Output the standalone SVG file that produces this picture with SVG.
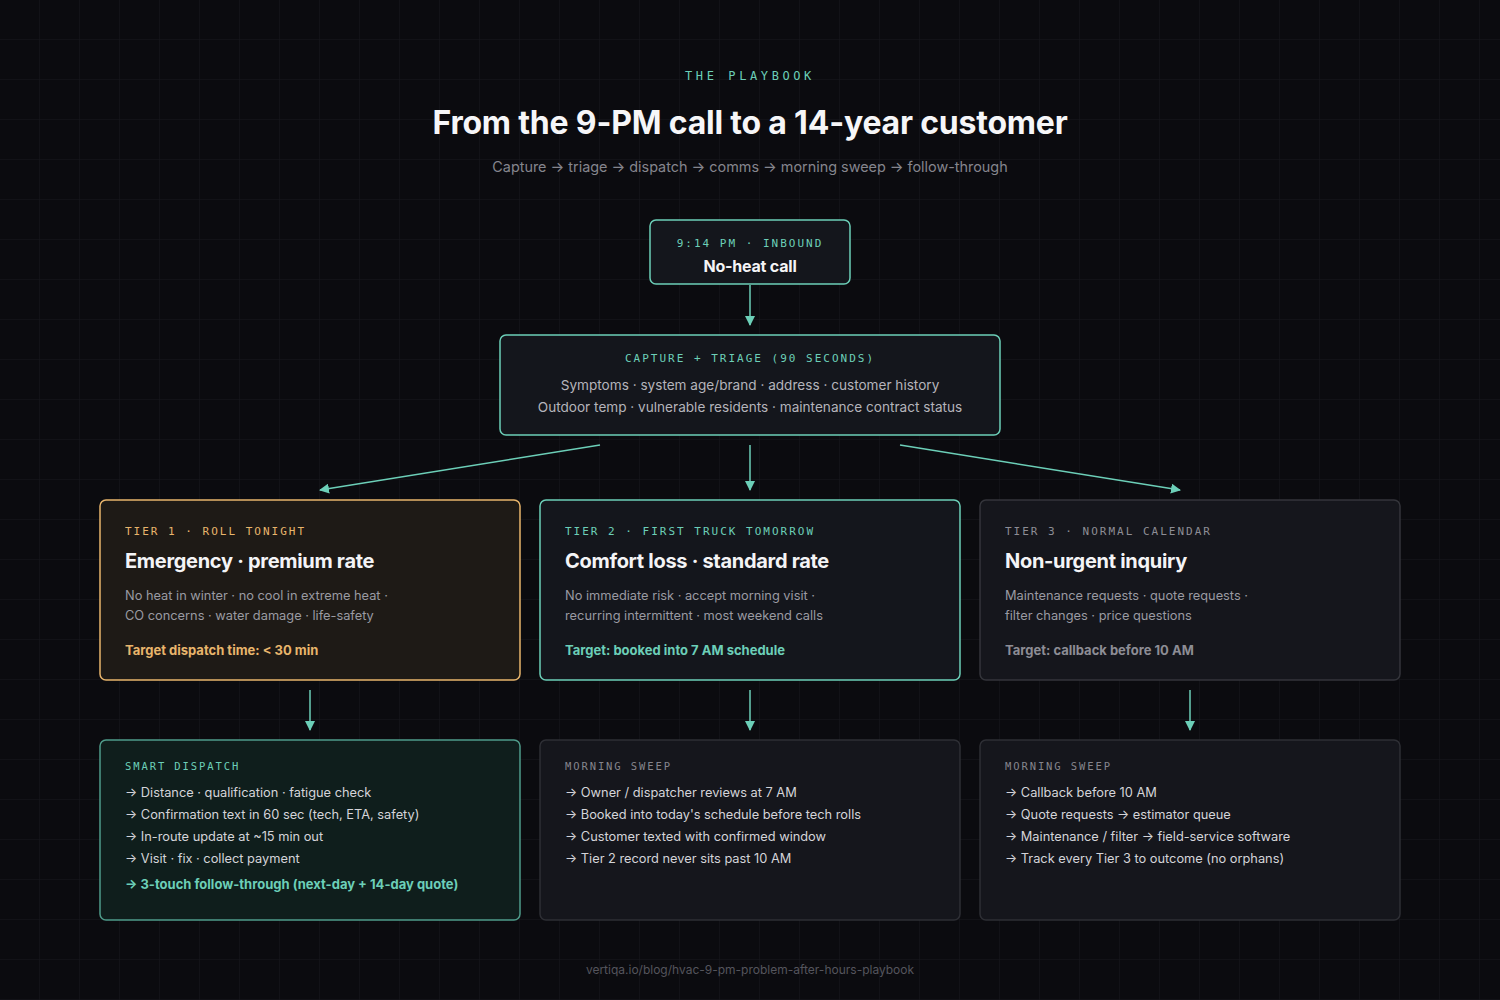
<svg xmlns="http://www.w3.org/2000/svg" width="1500" height="1000" viewBox="0 0 1500 1000">
<defs>
<pattern id="grid" width="40" height="40" patternUnits="userSpaceOnUse">
<path d="M40 0V40M0 40H40" fill="none" stroke="#17171d" stroke-width="1"/>
</pattern>
<marker id="arr" viewBox="0 0 10 10" refX="9" refY="5" markerWidth="10" markerHeight="10" markerUnits="userSpaceOnUse" orient="auto">
<path d="M0 0L10 5L0 10z" fill="#6ccfb8"/>
</marker>
<style>
.sans{font-family:Inter,"Liberation Sans",sans-serif}
.mono{font-family:"DejaVu Sans Mono","Liberation Mono",monospace;font-size:11px;letter-spacing:2px}
.lbl{font-family:"DejaVu Sans Mono","Liberation Mono",monospace;font-size:10.5px;letter-spacing:1.9px}
.teal{fill:#6ccfb8}
.orange{fill:#e8b56c}
.gray{fill:#8d8d95}
.ttl{font-family:Inter,"Liberation Sans",sans-serif;font-weight:700;font-size:20px;fill:#f4f4f6;letter-spacing:-0.3px}
.body{font-family:Inter,"Liberation Sans",sans-serif;font-size:12.8px;fill:#9a9aa2}
.item{font-family:Inter,"Liberation Sans",sans-serif;font-size:12.8px;fill:#d4d4d9}
.tgt{font-family:Inter,"Liberation Sans",sans-serif;font-size:13px;font-weight:700}
.conn{stroke:#6ccfb8;stroke-width:1.5;fill:none;marker-end:url(#arr)}
</style>
</defs>
<rect width="1500" height="1000" fill="#0b0b0f"/>
<rect width="1500" height="1000" fill="url(#grid)"/>

<g id="header">
<text x="750" y="80" text-anchor="middle" class="teal" style="font-family:'DejaVu Sans Mono','Liberation Mono',monospace;font-size:12px;letter-spacing:3.6px">THE PLAYBOOK</text>
<text x="750" y="134" text-anchor="middle" class="sans" font-size="32" font-weight="700" fill="#f6f6f8" letter-spacing="-0.2">From the 9-PM call to a 14-year customer</text>
<text x="750" y="172" text-anchor="middle" class="sans" font-size="14.4" fill="#85858d">Capture → triage → dispatch → comms → morning sweep → follow-through</text>
</g>

<g id="connectors">
<line x1="750" y1="285" x2="750" y2="325" class="conn"/>
<line x1="600" y1="445" x2="320" y2="490" class="conn"/>
<line x1="750" y1="445" x2="750" y2="490" class="conn"/>
<line x1="900" y1="445" x2="1180" y2="490" class="conn"/>
<line x1="310" y1="690" x2="310" y2="730" class="conn"/>
<line x1="750" y1="690" x2="750" y2="730" class="conn"/>
<line x1="1190" y1="690" x2="1190" y2="730" class="conn"/>
</g>

<g id="node-inbound">
<rect x="650" y="220" width="200" height="64" rx="6" fill="#14161c" stroke="#6ccfb8" stroke-width="1.5"/>
<text x="750" y="247" text-anchor="middle" class="mono teal">9:14 PM · INBOUND</text>
<text x="750" y="272" text-anchor="middle" class="sans" font-size="16" font-weight="700" fill="#f4f4f6" letter-spacing="-0.2">No-heat call</text>
</g>

<g id="node-triage">
<rect x="500" y="335" width="500" height="100" rx="6" fill="#14161c" stroke="#6ccfb8" stroke-width="1.5"/>
<text x="750" y="362" text-anchor="middle" class="mono teal">CAPTURE + TRIAGE (90 SECONDS)</text>
<text x="750" y="390" text-anchor="middle" class="sans" font-size="13.6" fill="#b4b4bb">Symptoms · system age/brand · address · customer history</text>
<text x="750" y="412" text-anchor="middle" class="sans" font-size="13.6" fill="#b4b4bb">Outdoor temp · vulnerable residents · maintenance contract status</text>
</g>

<g id="tier1">
<rect x="100" y="500" width="420" height="180" rx="6" fill="#1e1a16" stroke="#e8b56c" stroke-width="1.5"/>
<text x="125" y="535" class="mono orange">TIER 1 · ROLL TONIGHT</text>
<text x="125" y="568" class="ttl">Emergency · premium rate</text>
<text x="125" y="600" class="body">No heat in winter · no cool in extreme heat ·</text>
<text x="125" y="620" class="body">CO concerns · water damage · life-safety</text>
<text x="125" y="655" class="tgt orange">Target dispatch time: &lt; 30 min</text>
</g>

<g id="tier2">
<rect x="540" y="500" width="420" height="180" rx="6" fill="#14161c" stroke="#6ccfb8" stroke-width="1.5"/>
<text x="565" y="535" class="mono teal">TIER 2 · FIRST TRUCK TOMORROW</text>
<text x="565" y="568" class="ttl">Comfort loss · standard rate</text>
<text x="565" y="600" class="body">No immediate risk · accept morning visit ·</text>
<text x="565" y="620" class="body">recurring intermittent · most weekend calls</text>
<text x="565" y="655" class="tgt teal">Target: booked into 7 AM schedule</text>
</g>

<g id="tier3">
<rect x="980" y="500" width="420" height="180" rx="6" fill="#15161c" stroke="#34353b" stroke-width="1.5"/>
<text x="1005" y="535" class="mono gray">TIER 3 · NORMAL CALENDAR</text>
<text x="1005" y="568" class="ttl">Non-urgent inquiry</text>
<text x="1005" y="600" class="body">Maintenance requests · quote requests ·</text>
<text x="1005" y="620" class="body">filter changes · price questions</text>
<text x="1005" y="655" class="tgt gray">Target: callback before 10 AM</text>
</g>

<g id="dispatch">
<rect x="100" y="740" width="420" height="180" rx="6" fill="#0f1e1c" stroke="#4f9c8a" stroke-width="1.5"/>
<text x="125" y="770" class="lbl teal">SMART DISPATCH</text>
<text x="125" y="797" class="item">→ Distance · qualification · fatigue check</text>
<text x="125" y="819" class="item">→ Confirmation text in 60 sec (tech, ETA, safety)</text>
<text x="125" y="841" class="item">→ In-route update at ~15 min out</text>
<text x="125" y="863" class="item">→ Visit · fix · collect payment</text>
<text x="125" y="889" class="tgt teal">→ 3-touch follow-through (next-day + 14-day quote)</text>
</g>

<g id="sweep2">
<rect x="540" y="740" width="420" height="180" rx="6" fill="#15161c" stroke="#2e2f35" stroke-width="1.5"/>
<text x="565" y="770" class="lbl" fill="#85858d">MORNING SWEEP</text>
<text x="565" y="797" class="item">→ Owner / dispatcher reviews at 7 AM</text>
<text x="565" y="819" class="item">→ Booked into today's schedule before tech rolls</text>
<text x="565" y="841" class="item">→ Customer texted with confirmed window</text>
<text x="565" y="863" class="item">→ Tier 2 record never sits past 10 AM</text>
</g>

<g id="sweep3">
<rect x="980" y="740" width="420" height="180" rx="6" fill="#15161c" stroke="#2e2f35" stroke-width="1.5"/>
<text x="1005" y="770" class="lbl" fill="#85858d">MORNING SWEEP</text>
<text x="1005" y="797" class="item">→ Callback before 10 AM</text>
<text x="1005" y="819" class="item">→ Quote requests → estimator queue</text>
<text x="1005" y="841" class="item">→ Maintenance / filter → field-service software</text>
<text x="1005" y="863" class="item">→ Track every Tier 3 to outcome (no orphans)</text>
</g>

<g id="footer">
<text x="750" y="974" text-anchor="middle" class="sans" font-size="12" fill="#55555d">vertiqa.io/blog/hvac-9-pm-problem-after-hours-playbook</text>
</g>
</svg>
